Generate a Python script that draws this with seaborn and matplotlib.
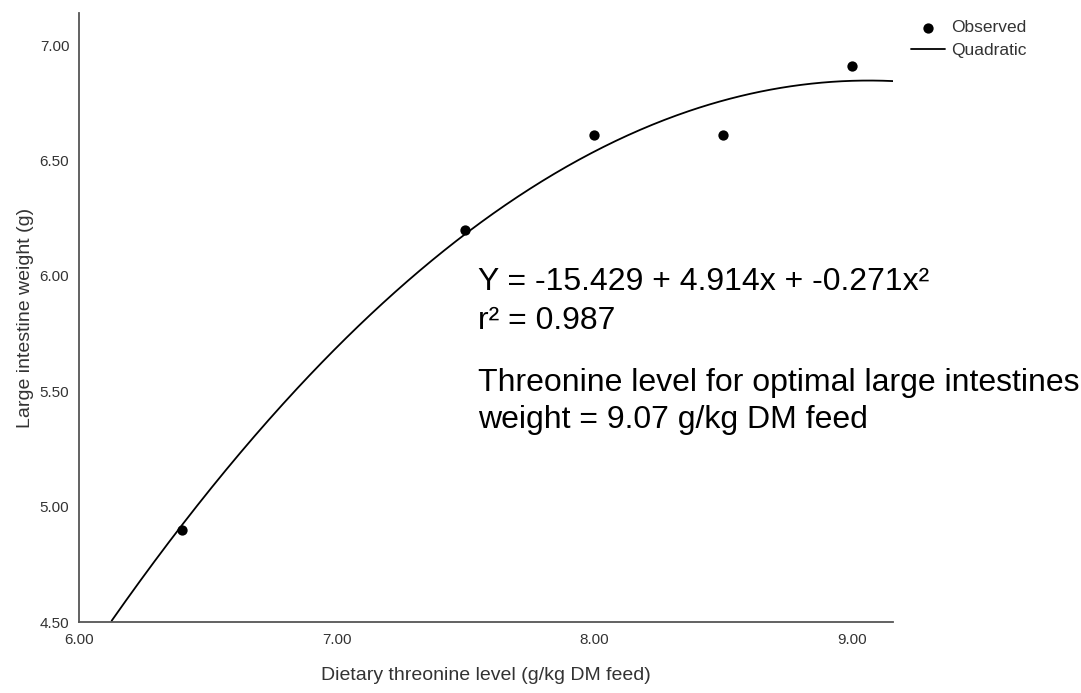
import numpy as np
import pandas as pd
import matplotlib
matplotlib.use("Agg")
import matplotlib.pyplot as plt
import seaborn as sns

# Data
threonine_level = [6.4, 7.5, 8.0, 8.5, 9.0]
intestine_weight = [4.9, 6.2, 6.61, 6.61, 6.91]
# Reported quadratic fit coefficients (c0, c1, c2)
quad_coefs = [-15.429, 4.914, -0.271]
x_ticks = [6.0, 7.0, 8.0, 9.0]
y_ticks = [4.5, 5.0, 5.5, 6.0, 6.5, 7.0]
x_limits = [6.0, 9.16]
y_limits = [4.5, 7.14]

sns.set_theme(style="white")
plt.rcParams["font.family"] = ["Liberation Sans", "DejaVu Sans"]

fig = plt.figure(figsize=(10.81, 6.93), dpi=100)
ax = fig.add_axes([79 / 1081, 71 / 693, (893 - 79) / 1081, (622 - 13) / 693])

obs = pd.DataFrame({"x": threonine_level, "y": intestine_weight})
xs = np.linspace(x_limits[0], x_limits[1], 400)
ys = quad_coefs[0] + quad_coefs[1] * xs + quad_coefs[2] * xs ** 2
fit = pd.DataFrame({"x": xs, "y": ys})
fit = fit[fit["y"] >= y_limits[0]]

sns.lineplot(data=fit, x="x", y="y", ax=ax, color="black", linewidth=1.3,
             label="Quadratic", zorder=2)
sns.scatterplot(data=obs, x="x", y="y", ax=ax, color="black", s=55,
                edgecolor="black", linewidth=0, label="Observed", zorder=3)

ax.set_xlim(*x_limits)
ax.set_ylim(*y_limits)
ax.set_xticks(x_ticks)
ax.set_yticks(y_ticks)
ax.set_xticklabels([f"{v:.2f}" for v in x_ticks])
ax.set_yticklabels([f"{v:.2f}" for v in y_ticks])
ax.tick_params(axis="both", length=0, labelsize=11, colors="#333333")
ax.tick_params(axis="y", pad=7)
ax.tick_params(axis="x", pad=8)

for side in ["top", "right"]:
    ax.spines[side].set_visible(False)
for side in ["left", "bottom"]:
    ax.spines[side].set_color("#555555")
    ax.spines[side].set_linewidth(1.3)

ax.set_xlabel("Dietary threonine level (g/kg DM feed)", fontsize=14,
              color="#333333", labelpad=14)
ax.set_ylabel("Large intestine weight (g)", fontsize=14, color="#333333",
              labelpad=4)

# legend: Observed first, then Quadratic
handles, labels = ax.get_legend_handles_labels()
order = [labels.index("Observed"), labels.index("Quadratic")]
ax.legend([handles[i] for i in order], [labels[i] for i in order],
          loc="upper left", bbox_to_anchor=(911 / 1081, 1 - 20 / 693),
          bbox_transform=fig.transFigure, frameon=False, fontsize=12.5,
          handlelength=1.95, handletextpad=0.35, labelspacing=0.45,
          borderpad=0, borderaxespad=0, labelcolor="#333333")

# Annotations
fs_note = 23
fig.text(478 / 1081, 1 - 290 / 693, "Y = -15.429 + 4.914x + -0.271x\u00b2",
         fontsize=fs_note, color="black", va="baseline", ha="left")
fig.text(478 / 1081, 1 - 329 / 693, "r\u00b2 = 0.987",
         fontsize=fs_note, color="black", va="baseline", ha="left")
fig.text(478 / 1081, 1 - 391 / 693, "Threonine level for optimal large intestines",
         fontsize=fs_note, color="black", va="baseline", ha="left")
fig.text(478 / 1081, 1 - 428 / 693, "weight = 9.07 g/kg DM feed",
         fontsize=fs_note, color="black", va="baseline", ha="left")

fig.savefig("out.png", dpi=100, facecolor="white")
